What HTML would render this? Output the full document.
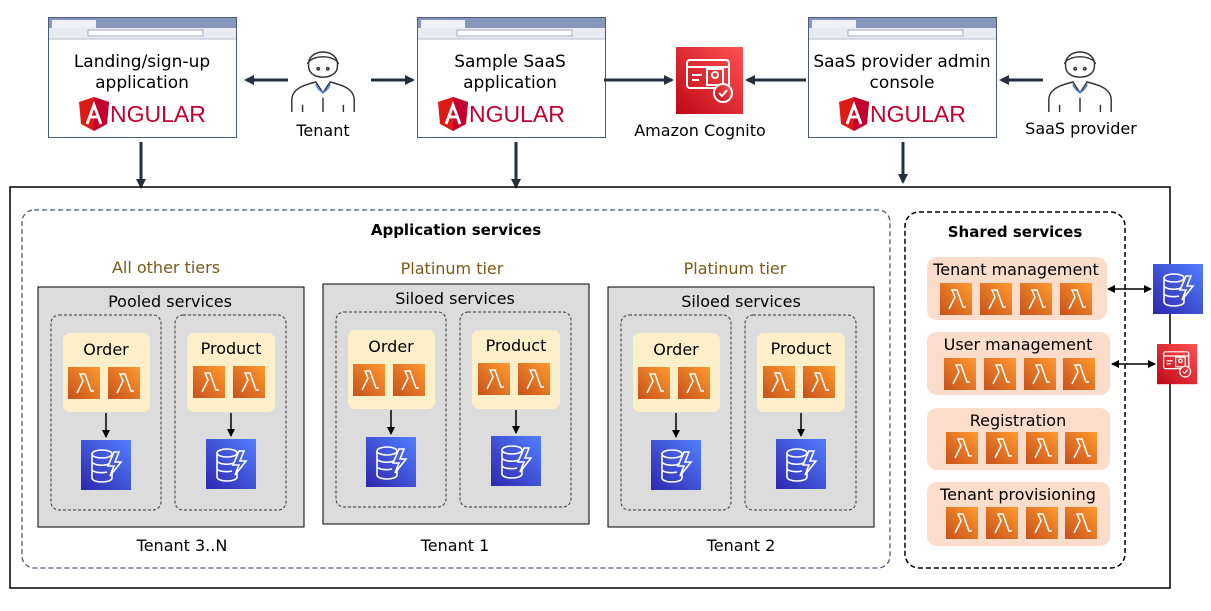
<!DOCTYPE html>
<html><head><meta charset="utf-8"><style>
body{margin:0;background:#fff;}
svg{display:block;font-family:"DejaVu Sans","Liberation Sans",sans-serif;}
</style></head><body>
<svg width="1211" height="611" viewBox="0 0 1211 611" xmlns="http://www.w3.org/2000/svg">
<defs>
<linearGradient id="lg" x1="0" y1="1" x2="1" y2="0"><stop offset="0" stop-color="#c8511b"/><stop offset="1" stop-color="#ff9a2e"/></linearGradient>
<linearGradient id="dg" x1="0" y1="1" x2="1" y2="0"><stop offset="0" stop-color="#2e27ad"/><stop offset="1" stop-color="#527fff"/></linearGradient>
<linearGradient id="cg" x1="0" y1="1" x2="1" y2="0"><stop offset="0" stop-color="#bd0816"/><stop offset="1" stop-color="#ff5252"/></linearGradient>
<g id="lam"><rect width="32" height="32" fill="url(#lg)"/><path d="M9 26 L15 14 L12 7 H17 L23 24 H26" fill="none" stroke="#fff" stroke-width="1.5"/></g>
<g id="ddb"><rect width="50" height="50" fill="url(#dg)"/><g fill="none" stroke="#fff" stroke-width="1.6"><ellipse cx="21" cy="14" rx="10" ry="4"/><path d="M11 14 V38 A10 4 0 0 0 31 38 V30 M11 22 A10 4 0 0 0 28 24 M11 30 A10 4 0 0 0 26 32"/><path d="M33 12 L27 26 H33 L29 36 L40 22 H34 L38 12 Z"/></g></g>
<g id="cog"><rect width="67" height="67" fill="url(#cg)"/><g fill="none" stroke="#fff" stroke-width="2"><rect x="11" y="13" width="42" height="28" rx="3"/><line x1="11" y1="20" x2="53" y2="20"/><line x1="16" y1="28" x2="26" y2="28"/><line x1="16" y1="33" x2="23" y2="33"/><rect x="31" y="22" width="16" height="16"/><circle cx="39" cy="28" r="3"/><circle cx="47" cy="46" r="9" fill="url(#cg)"/><path d="M43 46 L46 49 L51 43"/></g></g>
<g id="br"><rect x="0.5" y="0.5" width="188" height="120" fill="#fff" stroke="#4a5b7a"/><rect x="1" y="1" width="187" height="10" fill="#8797bb"/><rect x="4" y="3" width="44" height="8" fill="#eef2f8"/><rect x="1" y="11" width="187" height="11" fill="#e8ecf2"/><rect x="40" y="13" width="115" height="6" fill="#fff" stroke="#aab"/><line x1="1" y1="22" x2="188" y2="22" stroke="#bbc"/></g>
<g id="ang"><path d="M0 4 L15 -1 L30 4 L28 26 L15 33 L2 26 Z" fill="#dd1b16"/><path d="M15 -1 L30 4 L28 26 L15 33 Z" fill="#c3002f"/><path d="M8 26 L15 7 L22 26 M10.5 19 H19.5" stroke="#fff" stroke-width="2.8" fill="none"/></g>
<g id="usr" fill="none" stroke="#333" stroke-width="1.2"><path d="M-12 -8 C-14 -24 14 -24 12 -8 C12 4 -12 4 -12 -8 Z"/><path d="M-13 -10 C-10 -18 10 -18 13 -10"/><circle cx="-4" cy="-6" r="1"/><circle cx="4" cy="-6" r="1"/><path d="M-26 30 V20 C-26 10 -14 7 -6 5 L0 14 L6 5 C14 7 26 10 26 20 V30"/><path d="M-6 7 C-4 12 -2 12 0 14 C2 12 4 12 6 7" stroke="#4a7fe0"/><line x1="-17" y1="24" x2="-17" y2="30"/><line x1="17" y1="24" x2="17" y2="30"/><line x1="0" y1="18" x2="0" y2="30"/></g>
<marker id="ah" markerWidth="10" markerHeight="10" refX="8" refY="5" orient="auto" markerUnits="userSpaceOnUse"><path d="M0 0 L10 5 L0 10 Z" fill="#232f3e"/></marker>
<marker id="ab" markerWidth="8" markerHeight="8" refX="7" refY="4" orient="auto-start-reverse" markerUnits="userSpaceOnUse"><path d="M0 0 L8 4 L0 8 Z" fill="#000"/></marker>
</defs>

<use href="#br" x="48" y="17"/><use href="#br" x="417" y="17"/><use href="#br" x="808" y="17"/>
<g font-size="17" text-anchor="middle" fill="#000">
<text x="142" y="67">Landing/sign-up</text><text x="142" y="88">application</text>
<text x="510" y="67">Sample SaaS</text><text x="510" y="88">application</text>
<text x="902" y="67">SaaS provider admin</text><text x="902" y="88">console</text>
</g>
<use href="#ang" x="79" y="98"/><use href="#ang" x="438" y="98"/><use href="#ang" x="839" y="98"/>
<g font-size="23" fill="#c3002f" font-family="Liberation Sans,sans-serif"><text x="110" y="122">NGULAR</text><text x="469" y="122">NGULAR</text><text x="870" y="122">NGULAR</text></g>

<g transform="translate(323,76) scale(1.2)"><use href="#usr"/></g><g transform="translate(1080,76) scale(1.2)"><use href="#usr"/></g>
<g font-size="16" text-anchor="middle"><text x="323" y="136">Tenant</text><text x="1081" y="134">SaaS provider</text><text x="700" y="136">Amazon Cognito</text></g>
<use href="#cog" x="676" y="47"/>

<g stroke="#232f3e" stroke-width="3" marker-end="url(#ah)">
<line x1="288" y1="80" x2="246" y2="80"/><line x1="371" y1="80" x2="413" y2="80"/>
<line x1="604" y1="80" x2="672" y2="80"/><line x1="806" y1="80" x2="747" y2="80"/>
<line x1="1043" y1="80" x2="1001" y2="80"/>
<line x1="141" y1="142" x2="141" y2="187"/><line x1="516" y1="142" x2="516" y2="187"/><line x1="903" y1="142" x2="903" y2="182"/>
</g>

<rect x="10" y="187" width="1160" height="401" fill="none" stroke="#000" stroke-width="1.5"/>
<rect x="22" y="210" width="868" height="358" rx="12" fill="none" stroke="#4a5b7a" stroke-width="1.3" stroke-dasharray="5,3"/>
<text x="456" y="235" font-size="15" text-anchor="middle" font-weight="bold">Application services</text>
<rect x="905" y="212" width="220" height="356" rx="14" fill="none" stroke="#000" stroke-width="1.5" stroke-dasharray="5,3"/>
<text x="1015" y="237" font-size="15" text-anchor="middle" font-weight="bold">Shared services</text>

<g font-size="16" text-anchor="middle" fill="#7a5a16">
<text x="166" y="273">All other tiers</text><text x="452" y="274">Platinum tier</text><text x="735" y="274">Platinum tier</text></g>

<g id="col">
<rect x="38" y="287" width="266" height="240" fill="#dcdcdc" stroke="#000"/>
<rect x="51" y="315" width="110" height="195" rx="8" fill="none" stroke="#333" stroke-dasharray="3,2"/>
<rect x="175" y="315" width="111" height="195" rx="8" fill="none" stroke="#333" stroke-dasharray="3,2"/>
<rect x="63" y="333" width="87" height="79" rx="7" fill="#fdefc9"/>
<rect x="187" y="333" width="88" height="79" rx="7" fill="#fdefc9"/>
<g font-size="16" text-anchor="middle"><text x="106" y="355">Order</text><text x="231" y="354">Product</text></g>
<use href="#lam" x="68" y="367"/><use href="#lam" x="108" y="367"/><use href="#lam" x="193" y="366"/><use href="#lam" x="233" y="366"/>
<g stroke="#000" stroke-width="1.5" marker-end="url(#ab)"><line x1="106" y1="413" x2="106" y2="437"/><line x1="231" y1="413" x2="231" y2="436"/></g>
<use href="#ddb" x="81" y="440"/><use href="#ddb" x="206" y="439"/>
</g>
<g font-size="16" text-anchor="middle"><text x="170" y="307">Pooled services</text><text x="182" y="551">Tenant 3..N</text></g>
<use href="#col" x="285" y="-3"/>
<rect x="325" y="285" width="262" height="25" fill="#dcdcdc"/>
<use href="#col" x="570" y="0"/>
<rect x="610" y="288" width="262" height="25" fill="#dcdcdc"/>
<g font-size="16" text-anchor="middle"><text x="455" y="304">Siloed services</text><text x="741" y="307">Siloed services</text>
<text x="455" y="551">Tenant 1</text><text x="741" y="551">Tenant 2</text></g>

<g font-size="16" text-anchor="middle">
<rect x="927" y="257" width="180" height="63" rx="10" fill="#fcdccb"/><text x="1016" y="275">Tenant management</text>
<rect x="927" y="332" width="183" height="63" rx="10" fill="#fcdccb"/><text x="1018" y="350">User management</text>
<rect x="927" y="408" width="183" height="62" rx="10" fill="#fcdccb"/><text x="1018" y="426">Registration</text>
<rect x="927" y="482" width="183" height="64" rx="10" fill="#fcdccb"/><text x="1018" y="500">Tenant provisioning</text>
</g>
<use href="#lam" x="940" y="283"/><use href="#lam" x="980" y="283"/><use href="#lam" x="1020" y="283"/><use href="#lam" x="1060" y="283"/>
<use href="#lam" x="944" y="358"/><use href="#lam" x="984" y="358"/><use href="#lam" x="1024" y="358"/><use href="#lam" x="1063" y="358"/>
<use href="#lam" x="946" y="432"/><use href="#lam" x="986" y="432"/><use href="#lam" x="1026" y="432"/><use href="#lam" x="1065" y="432"/>
<use href="#lam" x="946" y="507"/><use href="#lam" x="986" y="507"/><use href="#lam" x="1026" y="507"/><use href="#lam" x="1065" y="507"/>
<g stroke="#000" stroke-width="1.5" marker-start="url(#ab)" marker-end="url(#ab)"><line x1="1108" y1="289" x2="1151" y2="289"/><line x1="1112" y1="364" x2="1155" y2="364"/></g>
<use href="#ddb" x="1153" y="264"/>
<g transform="translate(1157,344) scale(0.6)"><use href="#cog"/></g>
</svg>
</body></html>
